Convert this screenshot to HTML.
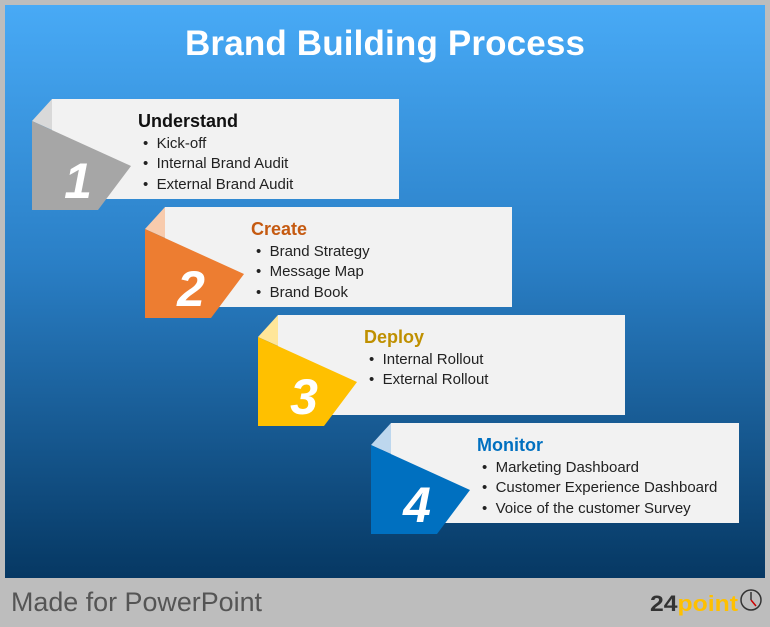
<!DOCTYPE html>
<html><head><style>
body{margin:0;width:770px;height:622px;overflow:hidden;background:#bdbdbd;font-family:"Liberation Sans",sans-serif}
</style></head><body>
<svg width="770" height="622" viewBox="0 0 770 622" xmlns="http://www.w3.org/2000/svg" font-family="'Liberation Sans',sans-serif">
<defs><linearGradient id="bg" x1="0" y1="0" x2="0" y2="1">
<stop offset="0" stop-color="#48aaf6"/><stop offset="0.45" stop-color="#2a7fc6"/><stop offset="1" stop-color="#063863"/></linearGradient></defs>
<rect x="0" y="0" width="770" height="622" fill="#bdbdbd"/>
<rect x="5" y="5" width="760" height="573" fill="url(#bg)"/>
<text x="385" y="55" text-anchor="middle" font-size="35" font-weight="bold" fill="#fff" textLength="400">Brand Building Process</text>

<g>
<rect x="52" y="99" width="347" height="100" fill="#f2f2f2"/>
<polygon points="52,99 52,130 32,121" fill="#d9d9d9"/>
<polygon points="32,121 131,166 98,210 32,210" fill="#a6a6a6"/>
<text x="78" y="198" text-anchor="middle" font-size="50" font-weight="bold" font-style="italic" fill="#fff">1</text>
<text x="138" y="127" font-size="18" font-weight="bold" fill="#111">Understand</text>
<g font-size="15" fill="#222"><text x="143" y="148">•&#160;&#160;Kick-off</text><text x="143" y="168">•&#160;&#160;Internal Brand Audit</text><text x="143" y="189">•&#160;&#160;External Brand Audit</text></g>
</g>

<g transform="translate(113,108)">
<rect x="52" y="99" width="347" height="100" fill="#f2f2f2"/>
<polygon points="52,99 52,130 32,121" fill="#f8cbad"/>
<polygon points="32,121 131,166 98,210 32,210" fill="#ed7d31"/>
<text x="78" y="198" text-anchor="middle" font-size="50" font-weight="bold" font-style="italic" fill="#fff">2</text>
<text x="138" y="127" font-size="18" font-weight="bold" fill="#c55a11">Create</text>
<g font-size="15" fill="#222"><text x="143" y="148">•&#160;&#160;Brand Strategy</text><text x="143" y="168">•&#160;&#160;Message Map</text><text x="143" y="189">•&#160;&#160;Brand Book</text></g>
</g>

<g transform="translate(226,216)">
<rect x="52" y="99" width="347" height="100" fill="#f2f2f2"/>
<polygon points="52,99 52,130 32,121" fill="#ffe699"/>
<polygon points="32,121 131,166 98,210 32,210" fill="#ffc000"/>
<text x="78" y="198" text-anchor="middle" font-size="50" font-weight="bold" font-style="italic" fill="#fff">3</text>
<text x="138" y="127" font-size="18" font-weight="bold" fill="#bf9000">Deploy</text>
<g font-size="15" fill="#222"><text x="143" y="148">•&#160;&#160;Internal Rollout</text><text x="143" y="168">•&#160;&#160;External Rollout</text></g>
</g>

<g transform="translate(339,324)">
<rect x="52" y="99" width="348" height="100" fill="#f2f2f2"/>
<polygon points="52,99 52,130 32,121" fill="#bdd7ee"/>
<polygon points="32,121 131,166 98,210 32,210" fill="#0070c0"/>
<text x="78" y="198" text-anchor="middle" font-size="50" font-weight="bold" font-style="italic" fill="#fff">4</text>
<text x="138" y="127" font-size="18" font-weight="bold" fill="#0070c0">Monitor</text>
<g font-size="15" fill="#222"><text x="143" y="148">•&#160;&#160;Marketing Dashboard</text><text x="143" y="168">•&#160;&#160;Customer Experience Dashboard</text><text x="143" y="189">•&#160;&#160;Voice of the customer Survey</text></g>
</g>

<text x="11" y="611" font-size="27" fill="#555" textLength="251" lengthAdjust="spacingAndGlyphs">Made for PowerPoint</text>
<text x="650" y="611" font-size="22" font-weight="bold" fill="#333" textLength="88" lengthAdjust="spacingAndGlyphs">24<tspan fill="#ffc000">point</tspan></text>
<circle cx="751" cy="600" r="10" fill="none" stroke="#333" stroke-width="1.5"/>
<line x1="751" y1="600" x2="751" y2="592" stroke="#333" stroke-width="1.5"/>
<line x1="751" y1="600" x2="756" y2="606" stroke="#c00" stroke-width="1.5"/>
</svg>
</body></html>
